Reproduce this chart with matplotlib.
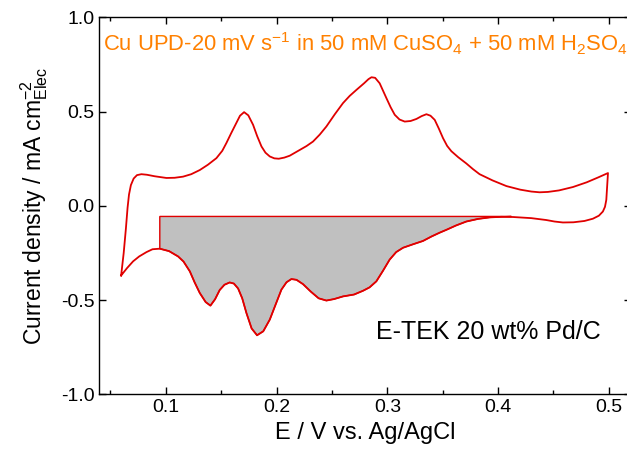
import matplotlib
matplotlib.use("Agg")
import matplotlib.pyplot as plt
import numpy as np

plt.rcParams['font.family'] = ['Liberation Sans', 'DejaVu Sans']
plt.rcParams['mathtext.fontset'] = 'custom'
plt.rcParams['mathtext.rm'] = 'Liberation Sans'
plt.rcParams['mathtext.it'] = 'Liberation Sans:italic'
plt.rcParams['mathtext.default'] = 'regular'

# anodic sweep (0.06 V -> 0.5 V)
x_anodic = [0.0597, 0.0620, 0.0640, 0.0655, 0.0668, 0.0685, 0.0710, 0.0740, 0.0780, 0.0830,
            0.0900, 0.1006, 0.1080, 0.1156, 0.1230, 0.1307, 0.1380, 0.1457, 0.1510, 0.1547,
            0.1590, 0.1637, 0.1670, 0.1707, 0.1745, 0.1788, 0.1825, 0.1864, 0.1900, 0.1939,
            0.1980, 0.2020, 0.2070, 0.2119, 0.2160, 0.2209, 0.2270, 0.2329, 0.2390, 0.2450,
            0.2525, 0.2600, 0.2660, 0.2721, 0.2790, 0.2830, 0.2857, 0.2890, 0.2931, 0.2960,
            0.2992, 0.3030, 0.3067, 0.3110, 0.3157, 0.3210, 0.3263, 0.3310, 0.3353, 0.3390,
            0.3428, 0.3465, 0.3503, 0.3540, 0.3578, 0.3640, 0.3713, 0.3773, 0.3833, 0.3950,
            0.4075, 0.4200, 0.4300, 0.4375, 0.4450, 0.4550, 0.4676, 0.4800, 0.4900, 0.4992]
y_anodic = [-0.369, -0.250, -0.120, -0.010, 0.060, 0.110, 0.145, 0.163, 0.168, 0.165,
            0.157, 0.148, 0.149, 0.155, 0.168, 0.190, 0.218, 0.253, 0.292, 0.333,
            0.385, 0.439, 0.478, 0.497, 0.480, 0.430, 0.370, 0.315, 0.282, 0.262,
            0.252, 0.250, 0.256, 0.266, 0.280, 0.297, 0.317, 0.341, 0.378, 0.421,
            0.485, 0.545, 0.583, 0.615, 0.650, 0.672, 0.682, 0.679, 0.650, 0.612,
            0.571, 0.523, 0.483, 0.458, 0.447, 0.450, 0.461, 0.476, 0.486, 0.478,
            0.456, 0.410, 0.359, 0.318, 0.290, 0.258, 0.225, 0.195, 0.168, 0.135,
            0.105, 0.086, 0.076, 0.072, 0.074, 0.082, 0.100, 0.125, 0.150, 0.174]

# cathodic sweep (0.5 V -> 0.06 V)
x_cathodic = [0.4992, 0.4985, 0.4977, 0.4965, 0.4946, 0.4910, 0.4856, 0.4780, 0.4680, 0.4585,
              0.4510, 0.4435, 0.4300, 0.4135, 0.4030, 0.3924, 0.3820, 0.3713, 0.3620, 0.3533,
              0.3473, 0.3400, 0.3322, 0.3230, 0.3142, 0.3080, 0.3021, 0.2960, 0.2901, 0.2840,
              0.2781, 0.2700, 0.2600, 0.2520, 0.2450, 0.2380, 0.2310, 0.2239, 0.2180, 0.2134,
              0.2090, 0.2044, 0.1990, 0.1939, 0.1880, 0.1824, 0.1775, 0.1728, 0.1690, 0.1653,
              0.1615, 0.1577, 0.1530, 0.1487, 0.1445, 0.1403, 0.1360, 0.1307, 0.1260, 0.1217,
              0.1160, 0.1111, 0.1030, 0.0946, 0.0880, 0.0826, 0.0760, 0.0705, 0.0650, 0.0597]
y_cathodic = [0.174, 0.110, 0.032, -0.005, -0.030, -0.052, -0.068, -0.080, -0.087, -0.088,
              -0.083, -0.075, -0.065, -0.059, -0.058, -0.061, -0.069, -0.083, -0.104, -0.127,
              -0.142, -0.162, -0.186, -0.204, -0.222, -0.245, -0.285, -0.345, -0.400, -0.432,
              -0.450, -0.470, -0.480, -0.494, -0.502, -0.490, -0.455, -0.415, -0.392, -0.388,
              -0.405, -0.444, -0.525, -0.603, -0.665, -0.686, -0.650, -0.568, -0.490, -0.438,
              -0.412, -0.406, -0.418, -0.446, -0.495, -0.529, -0.510, -0.462, -0.405, -0.347,
              -0.295, -0.268, -0.240, -0.227, -0.230, -0.245, -0.268, -0.294, -0.330, -0.369]

# Cu UPD stripping region used for the charge
upd_start, upd_end, upd_base = 0.0946, 0.412, -0.056

x_ticks = [0.1, 0.2, 0.3, 0.4, 0.5]
y_ticks = [-1.0, -0.5, 0.0, 0.5, 1.0]

fig = plt.figure(figsize=(6.27, 4.57), dpi=100)
ax = fig.add_axes([0.1584, 0.1368, 0.848, 0.8254])

# shaded UPD area, bounded by the cathodic scan and a flat baseline
xc = np.array(x_cathodic)
yc = np.array(y_cathodic)
m = (xc >= upd_start) & (xc <= upd_end)
fill_x = [upd_end] + list(xc[m]) + [upd_start, upd_end]
fill_y = [upd_base] + list(yc[m]) + [upd_base, upd_base]
ax.fill(fill_x, fill_y, facecolor='#c0c0c0', edgecolor='#e00000', lw=1.0, zorder=1)

ax.plot(x_anodic + x_cathodic, y_anodic + y_cathodic, color='#e00000', lw=1.3, zorder=2)

ax.set_xlim(0.04, 0.52)
ax.set_ylim(-1.0, 1.0)
ax.set_xticks(x_ticks)
ax.set_xticks(np.arange(0.05, 0.52, 0.1), minor=True)
ax.set_yticks(y_ticks)
ax.set_yticklabels(['%.1f' % v for v in y_ticks])
ax.set_xticklabels(['%.1f' % v for v in x_ticks])
ax.tick_params(which='both', direction='in', top=True, right=True, labelsize=14, width=1.0)
ax.tick_params(which='major', length=5)
ax.tick_params(which='minor', length=3)
for s in ax.spines.values():
    s.set_linewidth(1.0)

ax.set_xlabel('E / V vs. Ag/AgCl', fontsize=17, labelpad=4)
ax.set_ylabel(r'Current density / mA cm$^{-2}_{Elec}$', fontsize=16.5, labelpad=8)

ax.text(0.007, 0.93, r'Cu UPD-20 mV s$^{-1}$ in 50 mM CuSO$_4$ + 50 mM H$_2$SO$_4$',
        transform=ax.transAxes, color='#ff8000', fontsize=15.8, va='center')
ax.text(0.52, 0.165, 'E-TEK 20 wt% Pd/C', transform=ax.transAxes, fontsize=18, va='center')

fig.savefig('out.png', dpi=100)
